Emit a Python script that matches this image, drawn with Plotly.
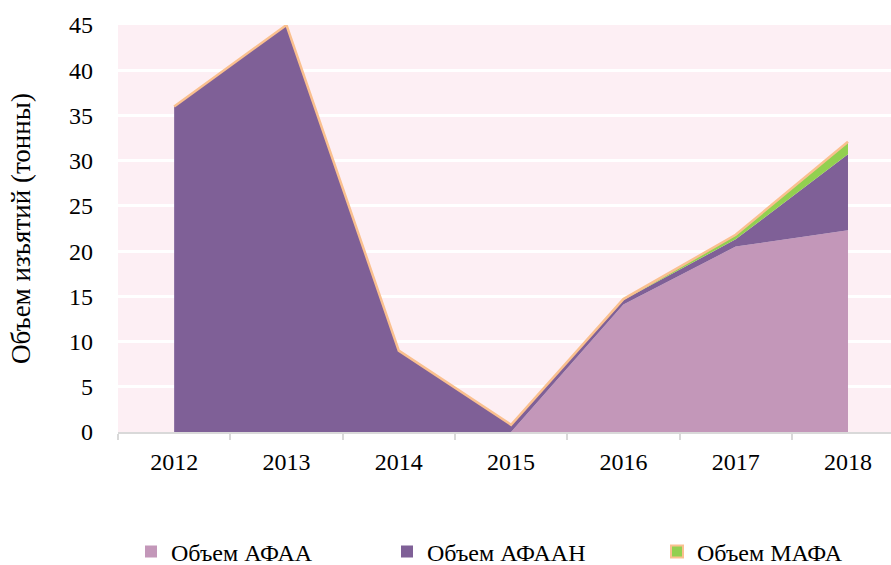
import plotly.graph_objects as go

years = ["2012", "2013", "2014", "2015", "2016", "2017", "2018"]
afaa = [0, 0, 0, 0, 14.1, 20.5, 22.3]
afaan = [36.0, 45.0, 9.0, 0.8, 0.5, 0.8, 8.4]
mafa = [0, 0, 0, 0, 0.1, 0.5, 1.4]
names = ["Объем АФАА", "Объем АФААН", "Объем МАФА"]
y_ticks = [0, 5, 10, 15, 20, 25, 30, 35, 40, 45]

c_afaa = "#C397B9"
c_afaan = "#7F6097"
c_mafa = "#92D050"
c_line = "#FAC08F"

x = list(range(len(years)))
FONT = "Liberation Serif"
FS = 24

fig = go.Figure()
fig.add_trace(go.Scatter(x=x, y=afaa, stackgroup="s", mode="none", fillcolor=c_afaa,
                         name=names[0], showlegend=False, hoverinfo="skip"))
fig.add_trace(go.Scatter(x=x, y=afaan, stackgroup="s", mode="none", fillcolor=c_afaan,
                         name=names[1], showlegend=False, hoverinfo="skip"))
fig.add_trace(go.Scatter(x=x, y=mafa, stackgroup="s", mode="lines", fillcolor=c_mafa,
                         line=dict(color=c_line, width=2.5), name=names[2], showlegend=False,
                         hoverinfo="skip"))

# legend swatches, one legend each for exact placement
legend_ids = ["legend", "legend2", "legend3"]
legend_x = [131, 387, 657]
for nm, fc, lc, lid in zip(names, [c_afaa, c_afaan, c_mafa], [c_afaa, c_afaan, c_line], legend_ids):
    fig.add_trace(go.Scatter(x=[None], y=[None], mode="markers", name=nm, legend=lid,
                             marker=dict(symbol="square", size=12, color=fc,
                                         line=dict(color=lc, width=2 if lc != fc else 0))))

legend_common = dict(orientation="h", xref="container", yref="container",
                     xanchor="left", y=1 - 552 / 565, yanchor="middle",
                     itemwidth=30, font=dict(family=FONT, size=FS, color="#000000"),
                     bgcolor="rgba(0,0,0,0)", borderwidth=0)

layout_legends = {}
for lid, lx in zip(legend_ids, legend_x):
    d = dict(legend_common)
    d["x"] = lx / 891
    layout_legends[lid] = d

fig.update_layout(
    width=891, height=565,
    margin=dict(l=118, r=0, t=25, b=133, autoexpand=False),
    paper_bgcolor="white",
    plot_bgcolor="#FDEFF4",
    font=dict(family=FONT, size=FS, color="#000000"),
    xaxis=dict(range=[-0.5, 6.383], tickmode="array", tickvals=x, ticktext=years,
               ticks="", showgrid=False, zeroline=False, automargin=False,
               showline=True, linecolor="#D9D9D9", linewidth=2,
               ticklabelstandoff=7,
               minor=dict(tickmode="linear", tick0=-0.5, dtick=1, ticks="outside",
                          ticklen=6, tickwidth=2, tickcolor="#D9D9D9", showgrid=False)),
    yaxis=dict(range=[0, 45], tickmode="array", tickvals=y_ticks, automargin=False,
               showgrid=True, gridcolor="white", gridwidth=3, zeroline=False,
               showline=False, ticks="", ticklabelstandoff=24,
               title=dict(text="Объем изъятий (тонны)", standoff=30,
                          font=dict(family=FONT, size=27))),
    **layout_legends,
)

fig.write_html("out.html", config={"displayModeBar": False},
               post_script="document.body.style.margin='0';document.body.style.overflow='hidden';")
